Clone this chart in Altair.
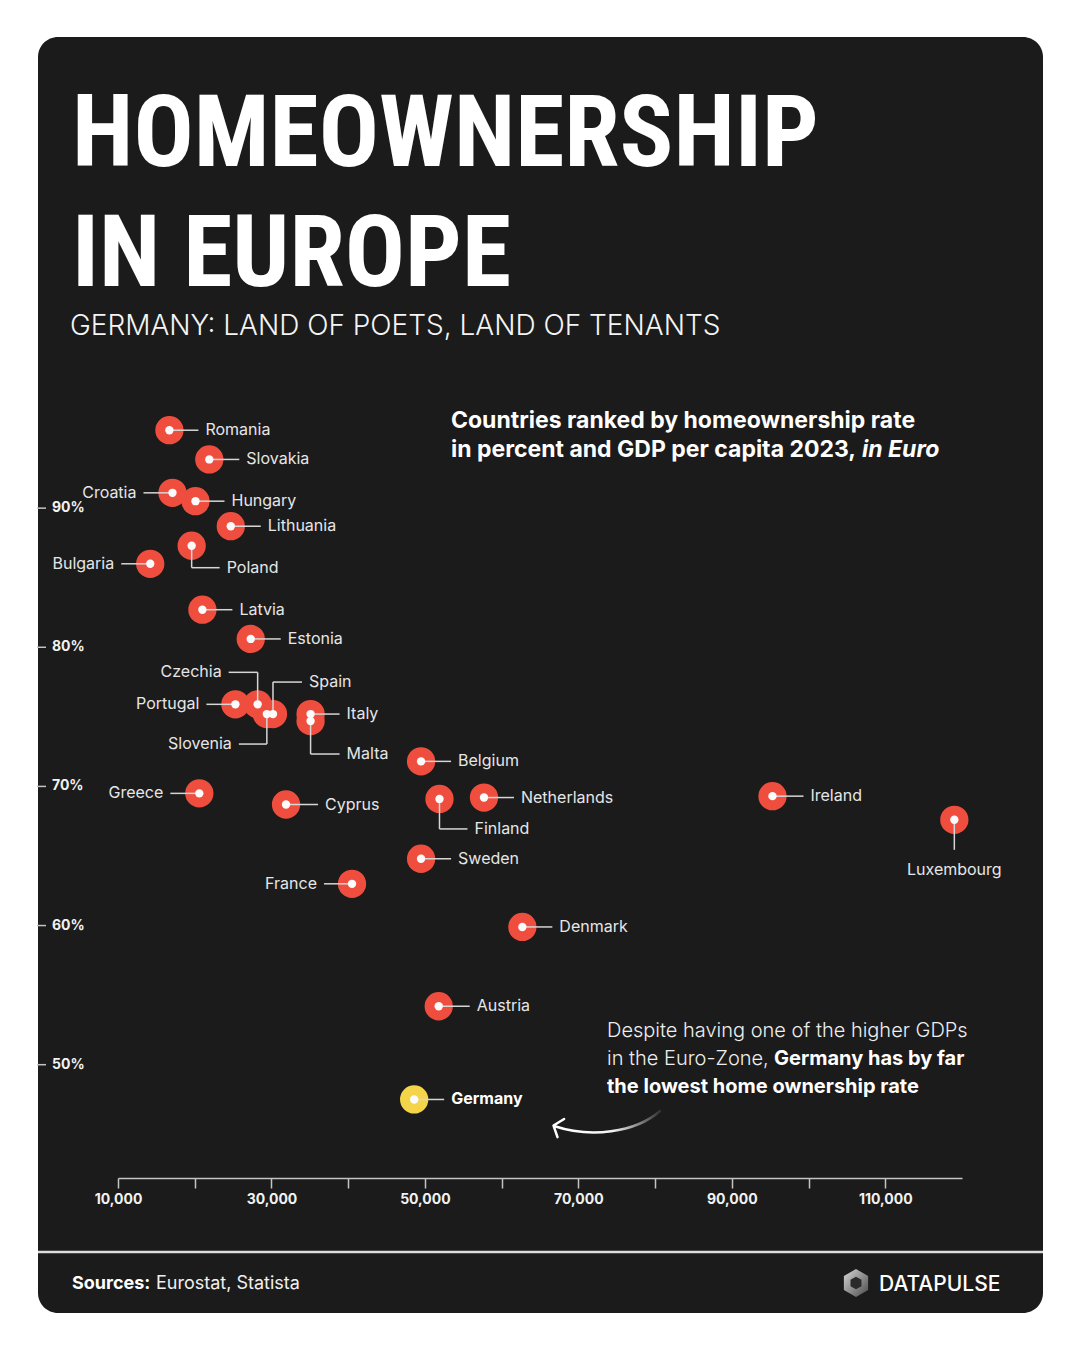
import altair as alt
import pandas as pd

# ---------------- data ----------------
COUNTRIES = ["Romania", "Slovakia", "Croatia", "Hungary", "Lithuania", "Poland", "Bulgaria",
             "Latvia", "Estonia", "Czechia", "Portugal", "Spain", "Slovenia", "Italy", "Malta",
             "Belgium", "Greece", "Cyprus", "Finland", "Netherlands", "Ireland", "Luxembourg",
             "Sweden", "France", "Denmark", "Austria", "Germany"]
GDP = [16700, 21900, 17100, 20100, 24700, 19600, 14200,
       21000, 27300, 28200, 25300, 30200, 29400, 35100, 35100,
       49500, 20600, 31900, 51900, 57700, 95300, 119000,
       49500, 40500, 62700, 51800, 48600]
RATE = [95.6, 93.5, 91.1, 90.5, 88.7, 87.3, 86.0,
        82.7, 80.6, 75.9, 75.9, 75.2, 75.2, 75.2, 74.7,
        71.8, 69.5, 68.7, 69.1, 69.2, 69.3, 67.6,
        64.8, 63.0, 59.9, 54.2, 47.5]
HIGHLIGHT = "Germany"

X_TICKS = [10000, 20000, 30000, 40000, 50000, 60000, 70000, 80000, 90000, 100000, 110000]
Y_TICKS = [50, 60, 70, 80, 90]
Y_TICK_LABELS = ["50%", "60%", "70%", "80%", "90%"]

TITLE_1 = "HOMEOWNERSHIP"
TITLE_2 = "IN EUROPE"
SUBTITLE = "GERMANY: LAND OF POETS, LAND OF TENANTS"
DESC_1 = "Countries ranked by homeownership rate"
DESC_2 = "in percent and GDP per capita 2023,"
DESC_2B = "in Euro"
NOTE_1 = "Despite having one of the higher GDPs"
NOTE_2A = "in the Euro-Zone,"
NOTE_2B = "Germany has by far"
NOTE_3 = "the lowest home ownership rate"
SRC_A = "Sources:"
SRC_B = "Eurostat, Statista"
BRAND = "DATAPULSE"

# ---------------- layout / style ----------------
# label placement relative to each point, in pixels: (kind, dx, dy)
LAYOUT = {
    "Romania": ("side", 36, 0), "Slovakia": ("side", 37, 0), "Croatia": ("side", -36, 0),
    "Hungary": ("side", 36, 0), "Lithuania": ("side", 37, 0), "Poland": ("side", 35, 22),
    "Bulgaria": ("side", -36, 0), "Latvia": ("side", 37, 0), "Estonia": ("side", 37, 0),
    "Czechia": ("side", -36, -32), "Portugal": ("side", -36, 0), "Spain": ("side", 36, -32),
    "Slovenia": ("side", -35, 30), "Italy": ("side", 36, 0), "Malta": ("side", 36, 33),
    "Belgium": ("side", 37, 0), "Greece": ("side", -36, 0), "Cyprus": ("side", 39, 0),
    "Finland": ("side", 35, 30), "Netherlands": ("side", 37, 0), "Ireland": ("side", 38, 0),
    "Luxembourg": ("below", 0, 50), "Sweden": ("side", 37, 0), "France": ("side", -35, 0),
    "Denmark": ("side", 37, 0), "Austria": ("side", 38, 0), "Germany": ("side", 37, 0),
}
GAP = 7

W, H = 844, 807
PAD = {"left": 110, "top": 361, "right": 110, "bottom": 166}
OX, OY = 8 + PAD["left"], 8 + PAD["top"]      # page position of the plot origin
X_MIN, X_MAX = 10000, 120000
Y_MIN, Y_MAX = 42, 100

BG = "#1b1b1b"
RED = "#ef4e3f"
YELLOW = "#f4d54a"
TXT = "#ededed"
LINE = "#d6d6d6"
SANS = "Inter"
NARROW = "Liberation Sans Narrow, Roboto Condensed, DejaVu Sans Condensed, Arial Narrow, sans-serif"


def px(xp):
    return xp - OX


def py(yp):
    return yp - OY


# ---------------- tables ----------------
df = pd.DataFrame({"country": COUNTRIES, "gdp": GDP, "rate": RATE})
df["grp"] = ["hl" if c == HIGHLIGHT else "other" for c in COUNTRIES]

kx = (X_MAX - X_MIN) / W
ky = (Y_MAX - Y_MIN) / H
segs, labs = [], []
for name, g, r in zip(COUNTRIES, GDP, RATE):
    kind, dx, dy = LAYOUT[name]
    ly = r - dy * ky
    if kind == "below":
        segs.append(dict(x0=g, x1=g, y0=r, y1=r - (dy - 20) * ky))
        labs.append(dict(name=name, lx=g, ly=ly, side="center"))
    else:
        sgn = 1 if dx > 0 else -1
        if dy != 0:
            segs.append(dict(x0=g, x1=g, y0=r, y1=ly))
        segs.append(dict(x0=g, x1=g + (dx - sgn * GAP) * kx, y0=ly, y1=ly))
        side = "right" if dx > 0 else "left"
        if name == HIGHLIGHT:
            side = "hl"
        labs.append(dict(name=name, lx=g + dx * kx, ly=ly, side=side))
seg_df = pd.DataFrame(segs)
lab_df = pd.DataFrame(labs)
ytick_df = pd.DataFrame({"v": Y_TICKS, "lab": Y_TICK_LABELS})
one = pd.DataFrame({"k": [0]})

xs = alt.Scale(domain=[X_MIN, X_MAX], zero=False, nice=False)
ys = alt.Scale(domain=[Y_MIN, Y_MAX], zero=False, nice=False)
X_AXIS = alt.Axis(
    title=None, values=X_TICKS, grid=False, offset=2, zindex=2, labelFlush=False,
    domainColor="#c4c4c4", domainWidth=1.5, tickColor="#c4c4c4", tickWidth=1.5, tickSize=10,
    labelColor="#f2f2f2", labelFont=SANS, labelFontWeight=700, labelFontSize=14, labelPadding=4,
    labelExpr="datum.value % 20000 == 10000 ? format(datum.value, ',') : ''",
)

# ---------------- decorations ----------------
panel = alt.Chart(one).mark_rect(fill=BG, cornerRadius=20).encode(
    x=alt.value(px(38)), x2=alt.value(px(1043)), y=alt.value(py(37)), y2=alt.value(py(1313)))
sep = alt.Chart(one).mark_rule(color="#dcdcdc", strokeWidth=2.5).encode(
    x=alt.value(px(38)), x2=alt.value(px(1043)), y=alt.value(py(1252)))


def txt(s, xp, yp, size, weight=400, color=TXT, font=SANS, style="normal", align="left"):
    return alt.Chart(one).mark_text(
        text=s, align=align, baseline="alphabetic", font=font, fontSize=size,
        fontWeight=weight, fontStyle=style, color=color,
    ).encode(x=alt.value(px(xp)), y=alt.value(py(yp)))


texts = [
    txt(TITLE_1, 72, 166, 100, weight=700, color="#ffffff", font=NARROW),
    txt(TITLE_2, 72, 286, 100, weight=700, color="#ffffff", font=NARROW),
    txt(SUBTITLE, 70, 335, 28, weight=300, color="#f4f4f4"),
    txt(DESC_1, 451, 428, 23, weight=700, color="#ffffff"),
    txt(DESC_2, 451, 457, 23, weight=700, color="#ffffff"),
    txt(DESC_2B, 862, 457, 23, weight=700, color="#ffffff", style="italic"),
    txt(NOTE_1, 607, 1037, 20, weight=300, color="#eeeeee"),
    txt(NOTE_2A, 607, 1065, 20, weight=300, color="#eeeeee"),
    txt(NOTE_2B, 774, 1065, 20, weight=700, color="#ffffff"),
    txt(NOTE_3, 607, 1093, 20, weight=700, color="#ffffff"),
    txt(SRC_A, 72, 1289, 18, weight=700, color="#ffffff"),
    txt(SRC_B, 156, 1289, 18, weight=400, color="#f0f0f0"),
    txt(BRAND, 879, 1291, 21, weight=500, color="#ffffff"),
]

ARROW = ("M 0.964 -0.255 C 0.51 0.145 -0.31 0.236 -0.964 0.018 "
         "M -0.78 -0.11 L -0.972 0.01 L -0.9 0.22")
arrow = alt.Chart(one).mark_point(
    shape=ARROW, size=12100, filled=False, strokeWidth=2.5, strokeCap="round",
    strokeJoin="round", opacity=1,
    stroke={"gradient": "linear", "x1": 0, "y1": 0, "x2": 1, "y2": 0,
            "stops": [{"offset": 0, "color": "#ffffff"}, {"offset": 0.55, "color": "#f4f4f4"},
                      {"offset": 1, "color": "#333333"}]},
).encode(x=alt.value(px(607)), y=alt.value(py(1125)))

HEX = "M 0 -1 L 0.866 -0.5 L 0.866 0.5 L 0 1 L -0.866 0.5 L -0.866 -0.5 Z"
logo_outer = alt.Chart(one).mark_point(
    shape=HEX, size=784, filled=True, opacity=1,
    fill={"gradient": "linear", "x1": 0, "y1": 0, "x2": 1, "y2": 1,
          "stops": [{"offset": 0, "color": "#d8d8d8"}, {"offset": 1, "color": "#4a4a4a"}]},
).encode(x=alt.value(px(856)), y=alt.value(py(1283)))
logo_inner = alt.Chart(one).mark_point(
    shape=HEX, size=160, filled=True, opacity=1, fill="#2a2a2a",
).encode(x=alt.value(px(856)), y=alt.value(py(1283)))

# ---------------- y ticks (custom, outside the plot) ----------------
yt_rule = alt.Chart(ytick_df).mark_rule(color="#c4c4c4", strokeWidth=1.5).encode(
    y=alt.Y("v:Q", scale=ys, axis=None), x=alt.value(px(37)), x2=alt.value(px(46)))
yt_text = alt.Chart(ytick_df).mark_text(
    align="left", baseline="middle", font=SANS, fontSize=14, fontWeight=700, color="#f2f2f2",
).encode(y=alt.Y("v:Q", scale=ys, axis=None), x=alt.value(px(52)), text="lab:N")

# ---------------- data layers ----------------
enc_x = alt.X("gdp:Q", scale=xs, axis=X_AXIS)
enc_y = alt.Y("rate:Q", scale=ys, axis=None)

circles = alt.Chart(df).mark_circle(size=800, opacity=1).encode(
    x=enc_x, y=enc_y,
    color=alt.Color("grp:N", scale=alt.Scale(domain=["other", "hl"], range=[RED, YELLOW]),
                    legend=None),
)
leaders = alt.Chart(seg_df).mark_rule(color=LINE, strokeWidth=1.5).encode(
    x=alt.X("x0:Q", scale=xs, axis=X_AXIS), x2="x1:Q",
    y=alt.Y("y0:Q", scale=ys, axis=None), y2="y1:Q",
)
dots = alt.Chart(df).mark_circle(size=70, opacity=1, color="#fbfbfb").encode(x=enc_x, y=enc_y)


def label_layer(side, align, weight=400, color="#e6e6e6"):
    return alt.Chart(lab_df).transform_filter(alt.datum.side == side).mark_text(
        align=align, baseline="middle", font=SANS, fontSize=16, fontWeight=weight, color=color,
    ).encode(
        x=alt.X("lx:Q", scale=xs, axis=X_AXIS), y=alt.Y("ly:Q", scale=ys, axis=None),
        text="name:N",
    )


labels = [
    label_layer("right", "left"),
    label_layer("left", "right"),
    label_layer("center", "center"),
    label_layer("hl", "left", weight=700, color="#ffffff"),
]

chart = alt.layer(
    panel, sep, *texts, arrow, logo_outer, logo_inner, yt_rule, yt_text,
    circles, leaders, dots, *labels,
).properties(
    width=W, height=H, padding=PAD, autosize="none", background="#ffffff",
).configure_view(stroke=None)

chart.save("out.html", embed_options={"renderer": "svg", "actions": False})
